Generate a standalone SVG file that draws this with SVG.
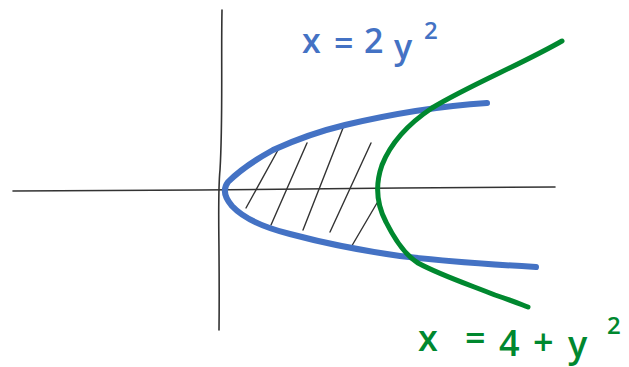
<svg xmlns="http://www.w3.org/2000/svg" width="629" height="367" viewBox="0 0 629 367">
<style>
.axis{fill:none;stroke:#333;stroke-width:1.6;stroke-linecap:round}
.hatch{fill:none;stroke:#333;stroke-width:1.4;stroke-linecap:round}
.blue{fill:none;stroke:#4472C4;stroke-width:6;stroke-linecap:round;stroke-linejoin:round}
.green{fill:none;stroke:#00882F;stroke-width:5;stroke-linecap:round;stroke-linejoin:round}
.tb{font-family:"Open Sans","DejaVu Sans",sans-serif;fill:#4472C4;font-size:34px;font-weight:600}
.tg{font-family:"Open Sans","DejaVu Sans",sans-serif;fill:#00882F;font-size:36px;font-weight:600}
</style>
<rect width="629" height="367" fill="#fff"/>
<path class="axis" d="M222,10 C221,60 223,120 220,170 C217,200 220,240 219,330"/>
<path class="axis" d="M13,191 L200,190 L400,188 L555,187"/>
<g id="hatching">
<path class="hatch" d="M278,150 L246,208"/>
<path class="hatch" d="M307,143 L271,225"/>
<path class="hatch" d="M343,128 L303,230"/>
<path class="hatch" d="M371,143 L330,232"/>
<path class="hatch" d="M377,203 L350,249"/>
</g>
<path class="blue" d="M487,103 C440,106 400,112 345,125 C320,131 295,140 273,150 C255,160 240,170 228,182 C222,190 225,198 232,206 C245,220 270,229 290,234 C320,242 350,249 400,256 C450,262 500,265 536,267"/>
<path class="green" d="M562,41 C520,65 470,85 432,108 C405,126 390,145 382,165 C375,185 377,205 386,222 C395,240 405,255 418,263 C440,275 470,285 495,295 C510,300 520,304 528,307"/>
<text class="tb"><tspan x="302" y="53">x</tspan><tspan x="334" y="55">=</tspan><tspan x="364" y="53">2</tspan><tspan x="394" y="59">y</tspan><tspan x="424" y="39" font-size="24">2</tspan></text>
<text class="tg"><tspan x="418" y="351">x</tspan><tspan x="465" y="351">=</tspan><tspan x="499" y="356">4</tspan><tspan x="533" y="355">+</tspan><tspan x="568" y="357">y</tspan><tspan x="607" y="334" font-size="24">2</tspan></text>
</svg>
